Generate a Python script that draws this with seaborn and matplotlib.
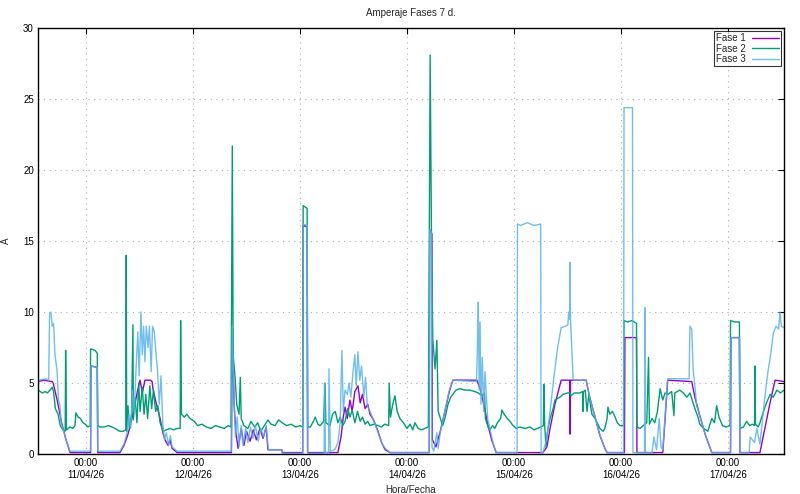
import pandas as pd
import seaborn as sns
import matplotlib.pyplot as plt
import matplotlib.dates as mdates

# horas desde 11/04/26 00:00, amperios
fase1 = [(-10.8, 5.1), (-9.5, 5.2), (-7.6, 5.1), (-7.4, 5.0), (-6.5, 3.8), (-5.5, 2.2), (-4.5, 1.0),
         (-3.6, 0.1), (1.0, 0.1), (1.1, 6.2), (2.5, 6.1), (2.6, 0.1), (7.6, 0.1), (8.5, 0.6), (9.4, 1.4),
         (9.9, 2.0), (10.5, 2.8), (11.0, 3.6), (11.5, 4.4), (12.1, 5.2), (12.6, 4.3), (13.2, 5.2),
         (14.4, 5.2), (14.8, 5.1), (15.0, 4.6), (15.7, 3.6), (16.2, 3.0), (16.6, 2.5), (17.3, 1.4),
         (17.7, 1.0), (18.4, 0.6), (18.8, 1.0), (19.3, 0.4), (20.4, 0.1), (32.6, 0.1), (32.8, 8.8),
         (33.2, 3.5), (33.6, 1.5), (34.1, 0.4), (34.8, 1.8), (35.4, 0.6), (36.0, 1.6), (36.8, 0.9),
         (37.5, 1.7), (38.2, 1.0), (39.0, 1.8), (39.7, 1.1), (40.4, 1.9), (40.8, 0.3), (43.9, 0.3),
         (44.0, 0.1), (48.6, 0.1), (48.7, 16.1), (49.6, 16.0), (49.7, 0.1), (56.5, 0.1), (57.2, 1.2),
         (57.7, 2.6), (58.1, 3.3), (58.6, 2.5), (59.2, 3.8), (59.7, 3.0), (60.3, 4.4), (61.0, 4.8),
         (61.5, 3.6), (62.0, 4.2), (62.6, 3.2), (63.2, 3.5), (63.7, 2.8), (64.5, 2.4), (65.5, 1.6),
         (66.3, 0.8), (67.1, 0.3), (68.2, 0.1), (77.0, 0.1), (77.1, 15.8), (77.6, 15.5), (77.7, 1.0),
         (78.5, 0.5), (79.4, 1.5), (80.5, 3.0), (81.5, 4.4), (82.3, 5.2), (87.7, 5.2), (88.4, 4.6),
         (89.3, 3.4), (90.2, 2.0), (91.0, 1.0), (92.0, 0.1), (102.5, 0.1), (103.4, 0.5), (104.1, 1.8),
         (105.2, 3.5), (106.6, 5.2), (108.5, 5.2), (108.6, 1.4), (108.7, 5.2), (112.2, 5.2),
         (113.0, 4.0), (114.2, 2.6), (115.3, 1.3), (116.4, 0.4), (116.9, 0.1), (120.8, 0.1),
         (120.9, 8.2), (123.5, 8.2), (123.6, 0.1), (129.4, 0.1), (130.5, 5.2), (135.9, 5.1),
         (136.6, 4.0), (137.7, 2.7), (139.0, 1.3), (140.4, 0.1), (144.6, 0.1), (144.7, 8.2),
         (146.6, 8.2), (146.7, 0.1), (151.2, 0.1), (152.3, 1.8), (153.4, 3.5), (154.6, 5.2),
         (156.6, 5.1)]

fase2 = [(-10.8, 4.5), (-10.3, 4.4), (-9.8, 4.3), (-9.2, 4.4), (-8.7, 4.3), (-8.1, 4.5), (-7.6, 4.7),
         (-7.3, 4.4), (-6.9, 3.2), (-6.3, 2.8), (-5.8, 2.0), (-5.2, 1.7), (-4.7, 1.6), (-4.6, 7.3),
         (-4.4, 1.7), (-3.6, 1.9), (-3.0, 1.8), (-2.5, 2.0), (-2.3, 2.9), (-1.8, 2.6), (-1.3, 2.5),
         (-0.7, 2.2), (-0.2, 2.1), (0.4, 1.9), (0.9, 2.0), (1.0, 7.4), (2.0, 7.3), (2.5, 7.1),
         (2.6, 2.0), (3.1, 1.9), (4.0, 1.9), (5.0, 2.0), (5.8, 1.9), (6.5, 1.8), (7.5, 1.6), (8.3, 1.6),
         (8.9, 1.7), (9.0, 14.0), (9.1, 1.6), (9.4, 3.4), (9.7, 1.8), (10.2, 2.8), (10.5, 9.1),
         (10.6, 2.4), (11.0, 4.0), (11.4, 2.2), (11.8, 5.0), (12.1, 3.0), (12.6, 4.7), (13.0, 2.8),
         (13.4, 4.2), (13.8, 2.5), (14.3, 4.8), (14.7, 3.2), (15.1, 4.5), (15.6, 3.0), (16.1, 3.4),
         (16.6, 2.2), (17.3, 1.6), (18.0, 1.7), (18.8, 1.8), (19.6, 1.7), (20.4, 1.8), (21.1, 1.8),
         (21.2, 9.4), (21.4, 2.8), (22.0, 2.6), (22.6, 2.8), (23.3, 2.5), (24.3, 2.3), (25.0, 2.0),
         (26.0, 2.1), (27.0, 1.9), (28.0, 1.8), (29.0, 2.0), (30.0, 1.9), (31.0, 1.8), (31.9, 2.0),
         (32.5, 1.9), (32.8, 21.7), (33.0, 7.0), (33.4, 5.5), (33.8, 3.5), (34.3, 2.8), (34.6, 5.4),
         (34.8, 2.5), (35.4, 2.0), (36.3, 1.8), (37.0, 2.3), (37.8, 1.9), (38.5, 2.2), (39.2, 1.6),
         (40.0, 2.0), (40.8, 2.4), (41.5, 2.1), (42.4, 2.0), (43.2, 2.4), (44.0, 2.2), (45.0, 2.0),
         (46.0, 2.1), (47.0, 1.9), (48.0, 2.0), (48.6, 1.9), (48.7, 17.5), (49.6, 17.3), (49.7, 1.9),
         (50.3, 1.9), (51.0, 2.3), (51.4, 2.6), (52.0, 2.1), (52.5, 2.0), (53.3, 2.3), (53.6, 5.0),
         (53.8, 2.2), (54.7, 2.0), (55.3, 2.8), (55.9, 3.0), (56.5, 2.2), (57.0, 2.6), (57.6, 2.0),
         (58.1, 2.3), (58.7, 3.2), (59.2, 2.6), (59.7, 3.1), (60.3, 2.2), (60.9, 3.0), (61.5, 2.3),
         (62.0, 2.6), (62.6, 2.1), (63.2, 2.3), (63.7, 2.0), (64.5, 2.1), (65.5, 2.0), (66.3, 1.9),
         (67.0, 2.1), (67.9, 2.0), (68.0, 5.0), (68.3, 2.6), (68.8, 3.5), (69.3, 4.1), (69.8, 3.0),
         (70.4, 2.5), (71.2, 2.2), (72.0, 1.8), (72.7, 2.1), (73.3, 1.7), (73.8, 2.2), (74.5, 1.8),
         (75.3, 1.7), (76.0, 1.8), (76.8, 1.9), (77.2, 28.1), (77.5, 15.0), (77.8, 8.0), (78.3, 6.0),
         (78.7, 8.0), (79.0, 3.0), (79.4, 2.6), (80.0, 2.0), (80.5, 2.5), (81.2, 3.5), (81.8, 4.0),
         (82.3, 4.2), (83.0, 4.5), (83.9, 4.6), (85.0, 4.5), (86.1, 4.5), (87.2, 4.4), (88.0, 4.3),
         (88.8, 4.1), (89.4, 4.3), (89.6, 2.5), (90.2, 1.9), (90.6, 1.7), (91.2, 2.0), (91.7, 1.8),
         (92.3, 2.2), (93.0, 2.5), (93.3, 3.1), (93.8, 2.8), (94.5, 2.5), (95.1, 2.3), (95.8, 2.0),
         (96.5, 1.8), (97.3, 1.9), (98.5, 1.8), (99.6, 1.9), (100.5, 1.7), (101.3, 1.8), (102.0, 1.9),
         (102.6, 2.0), (102.7, 4.9), (102.9, 2.0), (103.2, 0.5), (103.5, 1.5), (104.1, 2.5),
         (104.8, 3.2), (105.2, 3.8), (106.3, 4.0), (107.0, 4.2), (108.0, 4.3), (108.6, 4.3),
         (108.8, 4.1), (109.5, 4.3), (110.8, 4.3), (111.4, 4.4), (111.5, 3.0), (111.6, 4.4),
         (112.0, 4.5), (112.4, 3.0), (112.8, 4.2), (113.5, 2.8), (114.2, 2.5), (115.3, 1.8),
         (116.0, 1.6), (116.4, 1.8), (116.9, 2.5), (117.1, 3.3), (117.5, 2.8), (118.1, 3.0),
         (118.7, 2.6), (119.2, 2.2), (119.8, 2.0), (120.6, 2.0), (120.7, 9.4), (121.5, 9.3),
         (122.5, 9.4), (123.5, 9.2), (123.6, 1.9), (124.3, 1.8), (125.0, 2.0), (125.8, 2.2),
         (126.2, 6.8), (126.4, 2.1), (127.0, 2.5), (127.6, 2.2), (128.2, 3.0), (128.8, 4.6),
         (129.4, 3.8), (129.9, 4.3), (130.6, 4.2), (131.4, 4.4), (131.9, 2.7), (132.1, 4.3),
         (133.2, 4.5), (134.0, 4.3), (134.8, 4.0), (135.5, 4.3), (136.0, 3.8), (136.6, 3.2),
         (137.3, 2.6), (137.7, 2.1), (138.6, 1.8), (139.5, 1.6), (140.4, 2.5), (141.0, 2.2),
         (141.5, 3.4), (142.0, 2.6), (142.8, 2.0), (143.6, 1.9), (144.5, 2.0), (144.6, 9.4),
         (145.5, 9.3), (146.6, 9.3), (146.7, 1.8), (147.5, 1.9), (148.2, 2.3), (148.9, 2.0),
         (149.5, 2.1), (150.0, 2.0), (150.1, 6.2), (150.2, 2.1), (150.8, 1.9), (151.2, 2.2),
         (152.0, 3.0), (152.8, 3.7), (153.5, 4.2), (154.2, 4.0), (155.0, 4.5), (155.8, 4.3),
         (156.6, 4.5)]

fase3 = [(-10.8, 5.2), (-9.0, 5.3), (-8.4, 5.2), (-8.2, 9.9), (-7.9, 10.0), (-7.6, 9.0), (-7.3, 9.2),
         (-7.0, 7.0), (-6.5, 5.8), (-6.2, 3.8), (-5.9, 3.5), (-5.6, 2.2), (-5.2, 1.8), (-4.7, 1.2),
         (-4.3, 0.8), (-3.6, 0.2), (1.0, 0.2), (1.1, 6.2), (2.5, 6.1), (2.6, 0.2), (7.6, 0.2),
         (8.5, 0.7), (9.2, 1.5), (9.6, 2.8), (10.0, 1.8), (10.4, 4.5), (10.8, 3.0), (11.2, 6.0),
         (11.6, 8.6), (11.9, 5.5), (12.3, 10.0), (12.6, 7.0), (12.9, 9.0), (13.2, 6.5), (13.5, 9.0),
         (13.9, 7.5), (14.2, 9.0), (14.6, 5.8), (14.9, 9.0), (15.3, 8.6), (15.7, 7.0), (16.0, 6.0),
         (16.4, 3.5), (16.8, 5.5), (17.2, 2.2), (17.6, 1.0), (18.0, 1.5), (18.5, 0.6), (18.9, 1.3),
         (19.3, 0.5), (20.4, 0.2), (32.6, 0.2), (32.8, 9.0), (33.2, 4.0), (33.5, 1.2), (33.9, 2.6),
         (34.3, 0.5), (34.8, 2.0), (35.2, 0.6), (35.8, 1.8), (36.3, 0.8), (36.9, 1.9), (37.4, 1.1),
         (38.0, 2.0), (38.6, 0.9), (39.2, 1.8), (39.8, 1.2), (40.4, 2.0), (40.9, 0.3), (43.9, 0.3),
         (44.0, 0.05), (48.6, 0.05), (48.7, 16.2), (49.6, 16.1), (49.7, 0.05), (53.4, 0.05),
         (53.5, 5.0), (53.7, 0.1), (54.4, 0.1), (54.5, 6.0), (54.8, 0.2), (55.8, 0.3), (56.5, 0.8),
         (57.0, 2.2), (57.4, 7.3), (57.7, 3.0), (58.1, 4.5), (58.6, 4.2), (59.0, 5.0), (59.4, 4.0),
         (59.9, 5.8), (60.3, 7.0), (60.6, 4.8), (61.0, 7.2), (61.4, 5.2), (61.8, 6.2), (62.3, 4.0),
         (62.7, 5.4), (63.1, 3.4), (63.7, 3.0), (64.5, 2.4), (65.5, 1.5), (66.3, 0.8), (67.1, 0.4),
         (68.2, 0.1), (77.0, 0.1), (77.1, 15.8), (77.5, 15.6), (77.6, 0.5), (78.0, 0.2), (78.7, 1.5),
         (79.0, 0.4), (79.5, 1.6), (80.5, 3.0), (81.5, 4.5), (82.3, 5.2), (87.6, 5.1), (87.8, 7.5),
         (88.0, 10.7), (88.2, 4.5), (88.4, 9.3), (88.6, 3.5), (88.9, 6.8), (89.2, 3.0), (89.5, 5.8),
         (90.1, 2.5), (90.6, 1.8), (91.3, 0.8), (92.0, 0.1), (96.7, 0.1), (96.8, 16.2), (97.5, 16.1),
         (99.0, 16.3), (100.5, 16.1), (102.0, 16.2), (102.1, 0.1), (102.5, 0.1), (103.3, 1.0),
         (104.1, 3.0), (105.0, 5.5), (105.8, 7.5), (106.6, 8.9), (107.5, 9.0), (108.1, 9.1),
         (108.3, 10.0), (108.5, 9.5), (108.6, 13.5), (108.7, 9.5), (108.9, 8.0), (109.3, 5.2),
         (112.2, 5.2), (113.0, 4.0), (114.2, 2.6), (115.3, 1.3), (116.4, 0.4), (116.9, 0.1),
         (120.6, 0.1), (120.7, 24.4), (122.6, 24.4), (122.7, 0.1), (125.3, 0.1), (125.4, 10.3),
         (125.5, 0.1), (127.0, 0.1), (127.4, 1.2), (128.0, 0.3), (128.6, 2.5), (129.0, 0.5),
         (129.4, 0.3), (130.5, 5.3), (135.3, 5.3), (135.5, 9.0), (135.9, 8.8), (136.2, 6.0),
         (136.6, 4.8), (137.0, 3.4), (137.7, 2.7), (139.0, 1.3), (140.4, 0.1), (144.6, 0.1),
         (144.7, 8.2), (146.6, 8.2), (146.7, 0.1), (148.8, 0.1), (149.0, 1.2), (150.0, 0.8),
         (150.5, 1.8), (151.2, 0.7), (151.8, 2.5), (152.3, 4.0), (153.0, 5.8), (153.6, 7.0),
         (154.2, 8.5), (154.8, 9.0), (155.4, 8.8), (155.7, 10.0), (156.0, 9.0), (156.6, 8.9)]

series = {"Fase 1": fase1, "Fase 2": fase2, "Fase 3": fase3}
colores = {"Fase 1": "#9400D3", "Fase 2": "#009E73", "Fase 3": "#56B4E9"}
inicio = pd.Timestamp("2026-04-11 00:00")

filas = []
for nombre, puntos in series.items():
    for h, a in puntos:
        filas.append({"fecha": inicio + pd.Timedelta(hours=h), "A": a, "fase": nombre})
df = pd.DataFrame(filas)

sns.set_style("white")
plt.rcParams['font.family'] = ['Liberation Sans Narrow', 'Liberation Sans', 'DejaVu Sans']

fig = plt.figure(figsize=(8, 4.94), dpi=100)
ax = fig.add_axes([0.0475, 0.081, 0.9325, 0.862])

for nombre in series:
    sub = df[df["fase"] == nombre]
    sns.lineplot(data=sub, x="fecha", y="A", color=colores[nombre], lw=1.0,
                 estimator=None, sort=False, label=nombre, ax=ax,
                 alpha=0.85 if nombre == "Fase 3" else 1.0)

ax.set_xlim(inicio + pd.Timedelta(hours=-10.8), inicio + pd.Timedelta(hours=156.6))
ax.set_ylim(0, 30)
ax.set_yticks(range(0, 31, 5))
ax.xaxis.set_major_locator(mdates.DayLocator())
ax.xaxis.set_major_formatter(mdates.DateFormatter("%H:%M\n%d/%m/%y"))

ax.grid(True, color="#b0b0b0", linestyle=(0, (1, 4)), linewidth=0.8)
for s in ax.spines.values():
    s.set_color("black")
    s.set_linewidth(1.0)
ax.tick_params(direction="in", top=True, right=True, length=4, width=0.8,
               labelsize=7, colors="black", pad=3)

ax.set_title("Amperaje Fases 7 d.", fontsize=7, pad=9)
ax.set_xlabel("Hora/Fecha", fontsize=7, labelpad=4)
ax.set_ylabel("A", fontsize=7, labelpad=9)

leg = ax.legend(loc="upper right", fontsize=7, markerfirst=False, frameon=True,
                fancybox=False, edgecolor="black", borderpad=0.2, labelspacing=0.05,
                handlelength=2.8, handletextpad=0.6, borderaxespad=0.3)
leg.get_frame().set_linewidth(0.8)

plt.savefig("out.png", dpi=100)
